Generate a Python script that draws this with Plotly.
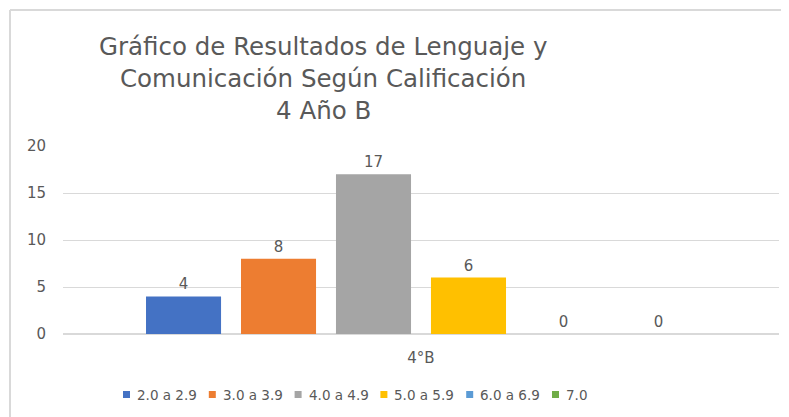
import plotly.graph_objects as go

categories = ["4°B"]
series_names = ["2.0 a 2.9", "3.0 a 3.9", "4.0 a 4.9", "5.0 a 5.9", "6.0 a 6.9", "7.0"]
series_values = [[4], [8], [17], [6], [0], [0]]
series_colors = ["#4472C4", "#ED7D31", "#A5A5A5", "#FFC000", "#5B9BD5", "#70AD47"]
y_ticks = [0, 5, 10, 15, 20]
title_lines = ["Gráfico de Resultados de Lenguaje y", "Comunicación Según Calificación", "4 Año B"]

FONT = "DejaVu Sans"
TXT = "#595959"

fig = go.Figure()
for name, vals, col in zip(series_names, series_values, series_colors):
    fig.add_trace(go.Bar(
        x=categories, y=vals, name=name, marker_color=col, marker_line_width=0,
        text=[str(v) for v in vals], textposition="outside",
        textfont=dict(family=FONT, size=15, color=TXT), cliponaxis=False,
    ))

# page has an 8px body margin; work in page pixels and convert
OFF = 8
W, H = 789 - OFF, 417 - OFF
PL, PR, PT, PB = 63, 779, 146, 334  # plot area in page pixels
L, R, T, B = PL - OFF, W - (PR - OFF), PT - OFF, H - (PB - OFF)
pw, ph = PR - PL, PB - PT

def px(x):
    return (x - PL) / pw

def py(y):
    return (PB - y) / ph

annotations = []
for i, line in enumerate(title_lines):
    annotations.append(dict(text=line, x=px(323), y=py([47, 78, 110][i]), xref="paper", yref="paper",
                            xanchor="center", yanchor="middle", showarrow=False,
                            font=dict(family=FONT, size=24.5, color=TXT)))

shapes = [
    dict(type="line", xref="paper", yref="paper", x0=px(10), x1=px(800), y0=py(10), y1=py(10),
         line=dict(color="#D9D9D9", width=2)),
    dict(type="line", xref="paper", yref="paper", x0=px(10), x1=px(10), y0=py(10), y1=py(430),
         line=dict(color="#D9D9D9", width=2)),
]

# legend drawn as swatch + text
for i, (name, col) in enumerate(zip(series_names, series_colors)):
    x0 = 123 + i * 85.8
    shapes.append(dict(type="rect", xref="paper", yref="paper", x0=px(x0), x1=px(x0 + 7),
                       y0=py(398), y1=py(391), fillcolor=col, line=dict(width=0)))
    annotations.append(dict(text=name, x=px(x0 + 12), y=py(394.5), xref="paper", yref="paper",
                            xanchor="left", yanchor="middle", showarrow=False,
                            font=dict(family=FONT, size=13.5, color=TXT)))

fig.update_layout(
    width=W, height=H,
    margin=dict(l=L, r=R, t=T, b=B, autoexpand=False),
    paper_bgcolor="white", plot_bgcolor="white",
    barmode="group", bargap=0.204, bargroupgap=0.21,
    font=dict(family=FONT, color=TXT),
    showlegend=False,
    yaxis=dict(range=[0, 20], tickvals=y_ticks, showgrid=True, gridcolor="#D9D9D9",
               zeroline=True, zerolinecolor="#D9D9D9", showline=False,
               tickfont=dict(family=FONT, size=15, color=TXT), ticklabelstandoff=16),
    xaxis=dict(showgrid=False, showline=False, tickfont=dict(family=FONT, size=15, color=TXT),
               ticklabelstandoff=13),
    annotations=annotations,
    shapes=shapes,
)

fig.write_html("out.html")
